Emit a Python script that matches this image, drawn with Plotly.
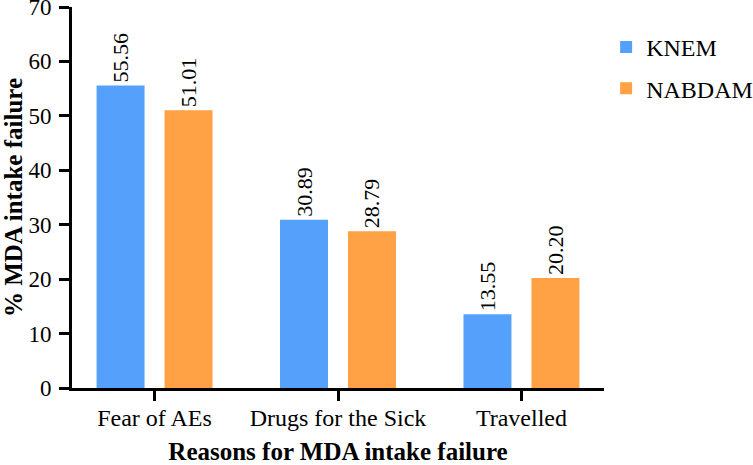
import plotly.graph_objects as go

categories = ["Fear of AEs", "Drugs for the Sick", "Travelled"]
knem = [55.56, 30.89, 13.55]
nabdam = [51.01, 28.79, 20.20]
series_names = ["KNEM", "NABDAM"]
colors = ["#55A0FB", "#FFA144"]

FONT = "Liberation Serif"

fig = go.Figure()
for name, vals, col, grp in zip(series_names, [knem, nabdam], colors, ["a", "b"]):
    fig.add_trace(go.Bar(
        x=categories, y=vals, name=name, legendgroup=grp,
        marker=dict(color=col, line=dict(width=0)),
        texttemplate="%{y:.2f}", textposition="outside", textangle=-90,
        textfont=dict(family=FONT, size=22, color="black"),
        constraintext="none",
        cliponaxis=False,
    ))

fig.update_layout(
    width=753, height=465,
    margin=dict(l=72, r=149, t=7, b=77, autoexpand=False),
    plot_bgcolor="white", paper_bgcolor="white",
    barmode="group", bargap=0.259, bargroupgap=0.294,
    font=dict(family=FONT, size=24, color="black"),
    showlegend=True,
    legend=dict(x=1.004, xanchor="left", y=0.953, yanchor="top",
                font=dict(family=FONT, size=24, color="black"),
                tracegroupgap=7, bgcolor="rgba(0,0,0,0)"),
)
fig.update_xaxes(
    type="category", range=[-0.45, 2.45], automargin=True,
    showline=True, linecolor="black", linewidth=3,
    ticks="outside", ticklen=10, tickwidth=2.5, tickcolor="black",
    tickfont=dict(family=FONT, size=24, color="black"),
    ticklabelstandoff=-4,
    showgrid=False,
    title=dict(text="<b>Reasons for MDA intake failure</b>",
               font=dict(family=FONT, size=25, color="black"), standoff=18),
)
fig.update_yaxes(
    range=[0, 70], dtick=10, tick0=0, automargin=False,
    ticklabeloverflow="allow", ticklabelstandoff=3,
    showline=True, linecolor="black", linewidth=3,
    ticks="outside", ticklen=10, tickwidth=2.5, tickcolor="black",
    tickfont=dict(family=FONT, size=23, color="black"),
    showgrid=False, zeroline=False,
    title=dict(text="<b>% MDA intake failure</b>",
               font=dict(family=FONT, size=25, color="black"), standoff=6),
)

fig.write_html("out.html", config={"displayModeBar": False},
               post_script="document.body.style.margin='0';")
